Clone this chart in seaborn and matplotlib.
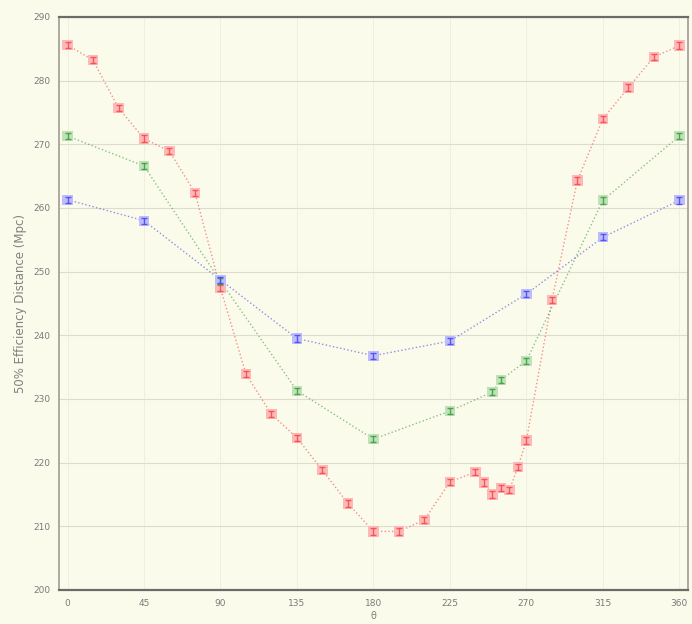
import numpy as np
import pandas as pd
import matplotlib
matplotlib.use("Agg")
import matplotlib.pyplot as plt
import seaborn as sns

# Angle (degrees) and 50% efficiency distance (Mpc) for three configurations
theta_red = [0, 15, 30, 45, 60, 75, 90, 105, 120, 135, 150, 165, 180, 195, 210,
             225, 240, 245, 250, 255, 260, 265, 270, 285, 300, 315, 330, 345, 360]
dist_red = [285.6, 283.2, 275.7, 270.9, 268.9, 262.4, 247.4, 233.9, 227.6, 223.9,
            218.8, 213.6, 209.2, 209.2, 211.0, 217.0, 218.5, 216.9, 215.0, 216.0,
            215.7, 219.3, 223.5, 245.5, 264.3, 274.0, 278.9, 283.7, 285.5]

theta_green = [0, 45, 90, 135, 180, 225, 250, 255, 270, 315, 360]
dist_green = [271.3, 266.6, 248.5, 231.3, 223.7, 228.1, 231.1, 233.0, 236.0, 261.2, 271.3]

theta_blue = [0, 45, 90, 135, 180, 225, 270, 315, 360]
dist_blue = [261.3, 258.0, 248.7, 239.5, 236.8, 239.1, 246.5, 255.4, 261.2]

yticks = [200, 210, 220, 230, 240, 250, 260, 270, 280, 290]
xticks = [0, 45, 90, 135, 180, 225, 270, 315, 360]

series = [
    ("red", theta_red, dist_red, "#f04848", "#ffb8b8"),
    ("green", theta_green, dist_green, "#3c9a3c", "#bfe2b8"),
    ("blue", theta_blue, dist_blue, "#4848e0", "#bcbcff"),
]

frames = []
for name, th, d, _, _ in series:
    frames.append(pd.DataFrame({"theta": th, "dist": d, "set": name}))
df = pd.concat(frames, ignore_index=True)

bg = "#fbfbec"
sns.set_theme(style="white")
plt.rcParams["font.family"] = ["DejaVu Sans"]

fig = plt.figure(figsize=(6.92, 6.24), dpi=100, facecolor=bg)
ax = fig.add_axes([0.0853, 0.0545, 0.9087, 0.9183])
ax.set_facecolor(bg)

palette = {name: c for name, _, _, c, _ in series}
pale = {name: p for name, _, _, _, p in series}

sns.lineplot(data=df, x="theta", y="dist", hue="set", palette=palette,
             linestyle=":", linewidth=1.0, legend=False, ax=ax, sort=False,
             estimator=None, alpha=0.6)
sns.scatterplot(data=df, x="theta", y="dist", hue="set", palette=pale,
                marker="s", s=55, linewidth=0, legend=False, ax=ax, zorder=3)

for name, th, d, c, _ in series:
    ax.errorbar(th, d, yerr=0.5, fmt="none", ecolor=c, elinewidth=1.0,
                capsize=2, capthick=1.0, zorder=4, alpha=0.85)

ax.set_xlim(-5, 365)
ax.set_ylim(200, 290)
ax.set_xticks(xticks)
ax.set_yticks(yticks)
ax.tick_params(axis="both", labelsize=6.5, colors="#7a7a7a", length=3,
               direction="out", width=0.8)
ax.grid(True, axis="y", color="#dcdcd0", linewidth=0.8)
ax.grid(True, axis="x", color="#ecece0", linewidth=0.6)

for side in ["left", "right"]:
    ax.spines[side].set_color("#a09a94")
    ax.spines[side].set_linewidth(1.2)
for side in ["top", "bottom"]:
    ax.spines[side].set_color("#6e6a66")
    ax.spines[side].set_linewidth(1.6)

ax.set_xlabel("θ", fontsize=7, color="#808080", labelpad=2)
ax.set_ylabel("50% Efficiency Distance (Mpc)", fontsize=8.5, color="#808080",
              labelpad=4)

fig.savefig("out.png", dpi=100, facecolor=bg)
